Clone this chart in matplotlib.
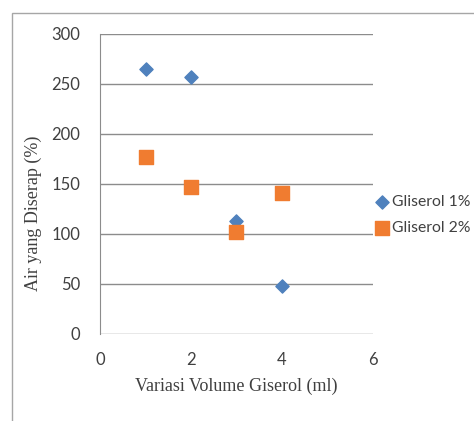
import numpy as np
import matplotlib
matplotlib.use("Agg")
import matplotlib.pyplot as plt
from matplotlib.patches import Rectangle

volume = [1, 2, 3, 4]
gliserol_1 = [265, 257, 113, 48]
gliserol_2 = [177, 147, 102, 141]
series_names = ["Gliserol 1%", "Gliserol 2%"]
yticks = [0, 50, 100, 150, 200, 250, 300]
xticks = [0, 2, 4, 6]

W, H = 474, 421
fig = plt.figure(figsize=(W/100, H/100), dpi=100)
fig.patch.set_facecolor("white")

# outer chart border (open at the bottom and right, cropped)
fig.patches.append(Rectangle((12/W, -0.05), 1.0, 1.05 - 13/H, transform=fig.transFigure,
                             fill=False, edgecolor="#a6a6a6", lw=1.0))

ax = fig.add_axes([100/W, 1 - 334/H, (373-100)/W, (334-34)/H])
ax.scatter(volume, gliserol_1, marker="D", s=45, color="#4f81bd", zorder=3, label=series_names[0])
ax.scatter(volume, gliserol_2, marker="s", s=110, color="#f07c30", zorder=3, label=series_names[1])

ax.set_xlim(0, 6)
ax.set_ylim(0, 300)
ax.set_xticks(xticks)
ax.set_yticks(yticks)
ax.yaxis.grid(True, color="#8c8c8c", lw=1.0)
ax.set_axisbelow(True)
for s in ["top", "right", "bottom"]:
    ax.spines[s].set_visible(False)
ax.spines["left"].set_color("#8c8c8c")
ax.tick_params(length=0, labelsize=12, colors="#404040")
ax.tick_params(axis="x", pad=13)
ax.tick_params(axis="y", pad=14)
for lab in ax.get_xticklabels() + ax.get_yticklabels():
    lab.set_family("Lato")

ax.set_xlabel("Variasi Volume Giserol (ml)", family="Liberation Serif", fontsize=13, color="#404040")
ax.set_ylabel("Air yang Diserap (%)", family="Liberation Serif", fontsize=13, color="#404040")
ax.xaxis.set_label_coords(0.5, -(378 - 334) / 300)
ax.yaxis.set_label_coords(-(100 - 42) / 273, (334 - 213) / 300)

leg = ax.legend(loc="center left", bbox_to_anchor=(373/W, 1 - 215/H), bbox_transform=fig.transFigure,
                frameon=False, handletextpad=0.0, handlelength=1.2, labelspacing=0.8,
                prop={"family": "Lato", "size": 11.3}, borderaxespad=0, borderpad=0)
for t in leg.get_texts():
    t.set_color("#404040")

fig.savefig("out.png", dpi=100)
